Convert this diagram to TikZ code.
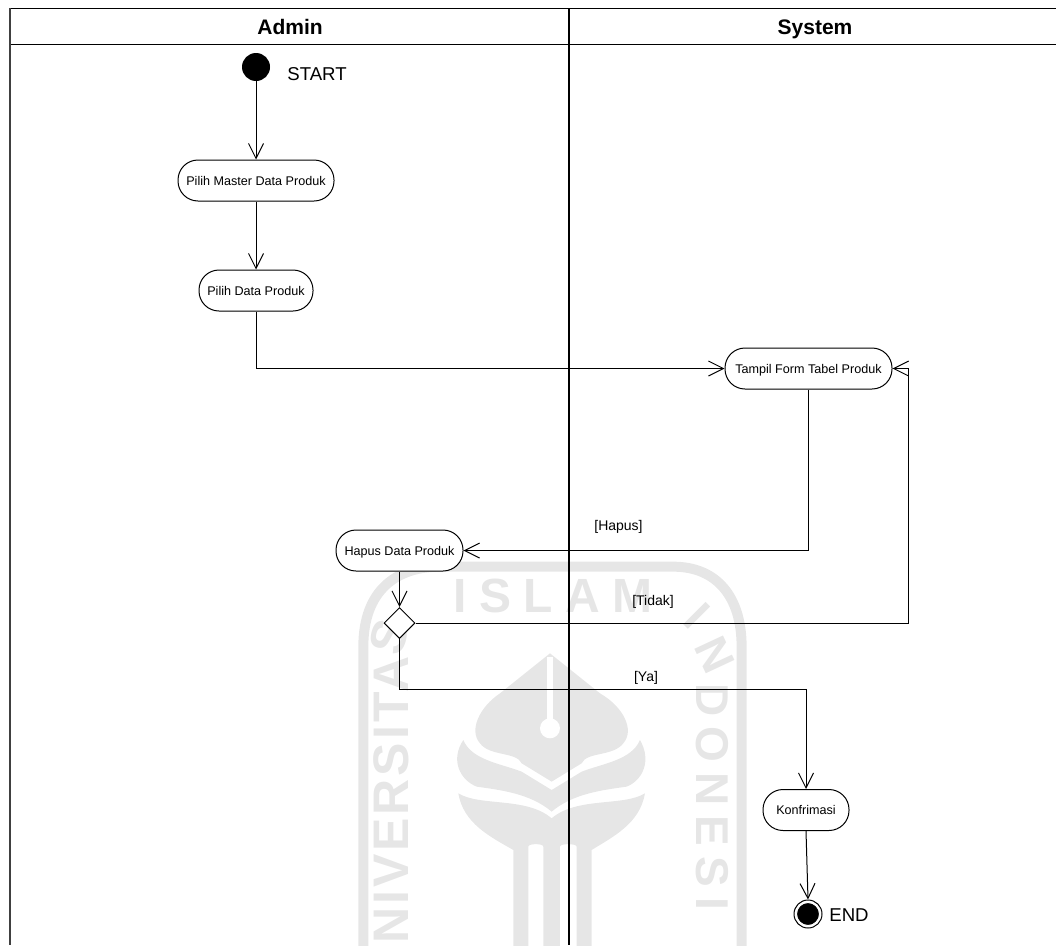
\documentclass[tikz,border=0pt]{standalone}
\usepackage{fontspec}
\setmainfont{Liberation Sans}
\usetikzlibrary{arrows.meta,shapes.geometric}

\definecolor{markgray}{HTML}{E6E6E6}

\tikzset{
  activity/.style={draw,line width=1pt,rounded corners=20pt,fill=white,inner sep=0pt,
    minimum height=41pt,text height=9pt,text depth=0pt,font=\fontsize{12.6}{14}\selectfont},
  decision/.style={draw,line width=1pt,diamond,aspect=1,fill=white,inner sep=0pt,minimum size=31pt},
  startdot/.style={circle,fill=black,inner sep=0pt,minimum size=28pt},
  enddot/.style={circle,fill=black,draw=white,line width=1pt,inner sep=0pt,minimum size=23pt},
  endring/.style={circle,draw,line width=1pt,inner sep=0pt,minimum size=28pt},
  lanetitle/.style={anchor=base,font=\fontsize{21}{24}\selectfont\bfseries},
  statelabel/.style={font=\fontsize{18.6}{22}\selectfont},
  guard/.style={font=\fontsize{14}{16}\selectfont},
  flow/.style={line width=1pt,-{Straight Barb[length=15pt,width=15pt,line width=1pt]}},
  markletter/.style={text=markgray,inner sep=0pt},
}
\newcommand{\markfont}[2]{\fontsize{#1}{#1}\selectfont\bfseries\addfontfeatures{LetterSpace=#2}}

\begin{document}
\begin{tikzpicture}[x=1pt,y=-1pt]

\useasboundingbox (0,0) rectangle (1056,945);
\clip (0,0) rectangle (1056,945);

% Watermark
\begin{scope}[shift={(340,560)},x=0.3333pt,y=-0.3333pt]
\draw[markgray,line width=10pt] (70,1160) -- (70,260) .. controls (70,90) and (170,20) .. (300,20)
  -- (1000,20) .. controls (1130,20) and (1205,110) .. (1205,260) -- (1205,1160);
\fill[markgray] (630,280) -- (480,400) .. controls (420,440) and (385,510) .. (420,550)
  .. controls (450,590) and (530,575) .. (545,610) -- (635,665) -- (725,610)
  .. controls (740,575) and (820,590) .. (850,550) .. controls (885,510) and (850,440) .. (780,400) -- cycle;
\fill[white] (622,290) rectangle (638,480);
\fill[white] (630,505) circle (30);
\fill[markgray] (370,540) .. controls (395,600) and (480,610) .. (545,635) -- (635,690) -- (725,635)
  .. controls (790,610) and (875,600) .. (900,540) .. controls (935,600) and (910,660) .. (860,680)
  .. controls (790,690) and (700,700) .. (635,755) .. controls (570,700) and (480,690) .. (410,680)
  .. controls (360,660) and (330,600) .. (370,540) -- cycle;
\fill[markgray] (355,700) .. controls (420,740) and (560,710) .. (635,775) .. controls (710,710) and (850,740) .. (915,700)
  .. controls (900,790) and (820,830) .. (755,870) -- (755,1160) -- (710,1160) -- (710,860) .. controls (710,850) and (660,850) .. (660,860)
  -- (660,1160) -- (610,1160) -- (610,860) .. controls (610,850) and (565,850) .. (565,860) -- (565,1160) -- (520,1160) -- (520,870)
  .. controls (450,830) and (370,790) .. (355,700) -- cycle;
\end{scope}
\path (553,595.5) node[markletter,font=\markfont{48}{26}] (markislam) {ISLAM}
(391,944) node[markletter,rotate=90,anchor=west,font=\markfont{50}{6}] (markleft) {NIVERSITA}
(389,637) node[markletter,rotate=75,font=\markfont{50}{0}] (markleftS) {S}
(712,683) node[markletter,rotate=-90,anchor=west,font=\markfont{46}{22}] (markright) {DONESI}
(715,655) node[markletter,rotate=-65,font=\markfont{46}{0}] (markrightN) {N}
(697,616) node[markletter,rotate=-45,font=\markfont{46}{0}] (markrightI) {I}
;

% Swimlanes
\draw[line width=1pt] (10,8.5) -- (1056,8.5);
\draw[line width=1pt] (10,44) -- (1056,44);
\draw[line width=1.6pt,black!75] (10,8) -- (10,945);
\draw[line width=2pt] (569,8) -- (569,945);
\path (290,34) node[lanetitle] (admin) {Admin}
(815,34) node[lanetitle] (system) {System}
;

% Define nodes
\path (256,67) node[startdot] (start) {}
(317,74) node[statelabel] (startlabel) {START}
(256,180.5) node[activity,minimum width=156pt] (master) {Pilih Master Data Produk}
(256,290.5) node[activity,minimum width=114pt] (pilih) {Pilih Data Produk}
(808.5,368.5) node[activity,minimum width=167pt] (tampil) {Tampil Form Tabel Produk}
(399.5,550.5) node[activity,minimum width=127pt] (hapus) {Hapus Data Produk}
(399.5,623) node[decision] (cek) {}
(806,810) node[activity,minimum width=86pt] (konfirmasi) {Konfrimasi}
(808,914) node[endring] (end) {}
(808,914) node[enddot] (enddisc) {}
(849,915) node[statelabel] (endlabel) {END}
(618.5,527) node[guard] (hapuslabel) {[Hapus]}
(653,602) node[guard] (tidaklabel) {[Tidak]}
(646,678) node[guard] (yalabel) {[Ya]}
(908,368.5) coordinate (balik)
(806,689) coordinate (ya)
;

% Flows
\draw[flow] (start) -- (master);
\draw[flow] (master) -- (pilih);
\draw[flow] (pilih.south) |- (tampil.west);
\draw[flow] (tampil.south) |- (hapus.east);
\draw[flow] (hapus) -- (cek);
\draw[flow] (cek.east) -| (balik) -- (tampil.east);
\draw[flow] (cek.south) |- (ya) -- (konfirmasi.north);
\draw[flow] (konfirmasi.south) -- (end.north);

\end{tikzpicture}
\end{document}
